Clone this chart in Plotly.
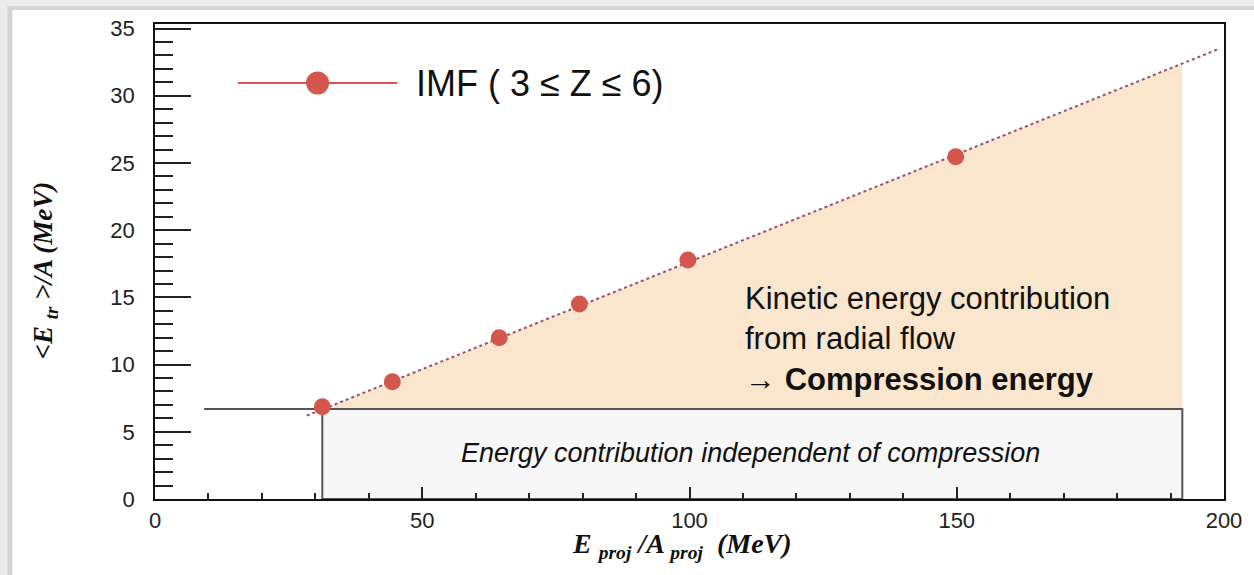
import plotly.graph_objects as go

# Beam energy per nucleon (MeV) and mean transverse energy per nucleon of IMFs (MeV)
e_proj = [31.3, 44.4, 64.4, 79.4, 99.7, 149.8]
e_tr = [6.87, 8.73, 12.0, 14.5, 17.78, 25.47]

# Linear systematics drawn through the points (end points)
fit_x = [28.4, 199.1]
fit_y = [6.2, 33.5]

# Compression-energy region (above the constant offset)
flow_x = [31.5, 192.2, 192.2]
flow_y = [6.7, 32.4, 6.7]

# Constant, compression-independent offset
offset_level = 6.7
offset_x = [31.3, 192.2]
offset_line_start = 9.2

x_range = [0, 200]
y_range = [0, 35.34]

# figure geometry
W, H = 1254, 575
ML, MR, MT, MB = 155, 27, 24, 76
PW, PH = W - ML - MR, H - MT - MB


def px(xp):
    return (xp - ML) / PW


def py(yp):
    return (H - MB - yp) / PH


fig = go.Figure()

fig.add_trace(go.Scatter(
    x=flow_x, y=flow_y, fill="toself", mode="none",
    fillcolor="#f9e6cd", hoverinfo="skip", showlegend=False))

fig.add_trace(go.Scatter(
    x=[offset_line_start, offset_x[1]], y=[offset_level, offset_level],
    mode="lines", line=dict(color="#555555", width=2), showlegend=False))

fig.add_trace(go.Scatter(
    x=fit_x, y=fit_y, mode="lines",
    line=dict(color="#9a5068", width=2, dash="dot"), showlegend=False))

fig.add_trace(go.Scatter(
    x=e_proj, y=e_tr, mode="markers",
    marker=dict(color="#d4574e", size=17, line=dict(width=0)),
    name="IMF ( 3 ≤ Z ≤ 6)", showlegend=False))

shapes = [
    # page background and card
    dict(type="rect", xref="paper", yref="paper", layer="below",
         x0=px(7), x1=px(1260), y0=py(580), y1=py(6),
         fillcolor="#d4d4d4", line=dict(width=0)),
    dict(type="rect", xref="paper", yref="paper", layer="below",
         x0=px(12), x1=px(1260), y0=py(580), y1=py(10),
         fillcolor="white", line=dict(width=0)),
    # compression-independent box
    dict(type="rect", xref="x", yref="y", layer="below",
         x0=offset_x[0], x1=offset_x[1], y0=0, y1=offset_level,
         fillcolor="#f7f7f7", line=dict(color="#555555", width=2)),
    # legend sample line
    dict(type="line", xref="paper", yref="paper",
         x0=px(238), x1=px(398), y0=py(83), y1=py(83),
         line=dict(color="#d4574e", width=2)),
    dict(type="circle", xref="paper", yref="paper",
         xsizemode="pixel", ysizemode="pixel",
         xanchor=px(318), yanchor=py(83),
         x0=-11.5, x1=11.5, y0=-11.5, y1=11.5,
         fillcolor="#d4574e", line=dict(width=0)),
]

annotations = [
    dict(text="IMF ( 3 ≤ Z ≤ 6)", xref="paper", yref="paper",
         x=px(415), y=py(84), xanchor="left", yanchor="middle", showarrow=False,
         font=dict(family="Liberation Sans", size=36, color="#111111")),
    dict(text="Kinetic energy contribution<br>from radial flow<br>→ <b>Compression energy</b>",
         xref="paper", yref="paper", x=px(745), y=py(339),
         xanchor="left", yanchor="middle", align="left", showarrow=False,
         font=dict(family="Liberation Sans", size=31, color="#111111")),
    dict(text="<i>Energy contribution independent of compression</i>",
         xref="paper", yref="paper", x=px(752), y=py(453),
         xanchor="center", yanchor="middle", showarrow=False,
         font=dict(family="Liberation Sans", size=27, color="#111111")),
    dict(text="<b><i>&lt;E <sub>tr</sub> &gt;/A (MeV)</i></b>", textangle=-90,
         xref="paper", yref="paper", x=px(45), y=py(270),
         xanchor="center", yanchor="middle", showarrow=False,
         font=dict(family="Liberation Serif", size=27, color="#111111")),
    dict(text="<b><i>E <sub>proj</sub> /A <sub>proj</sub>  (MeV)</i></b>",
         xref="paper", yref="paper", x=px(683), y=py(545),
         xanchor="center", yanchor="middle", showarrow=False,
         font=dict(family="Liberation Serif", size=28, color="#111111")),
]

fig.update_layout(
    width=W, height=H,
    margin=dict(l=ML, r=MR, t=MT, b=MB, pad=0),
    paper_bgcolor="#ececec", plot_bgcolor="rgba(0,0,0,0)",
    shapes=shapes, annotations=annotations, showlegend=False,
)

axis_common = dict(
    showgrid=False, zeroline=False, showline=True, mirror=True,
    linecolor="#111111", linewidth=1.5, ticks="inside", tickcolor="#222222",
    tickwidth=1.5, tickfont=dict(family="Liberation Sans", size=22, color="#222222"),
)

fig.update_xaxes(range=x_range, dtick=50, tick0=0, ticklen=12,
                 ticklabelstandoff=1,
                 minor=dict(dtick=10, ticklen=6, ticks="inside", tickcolor="#222222"),
                 **axis_common)
fig.update_yaxes(range=y_range, dtick=5, tick0=0, ticklen=36,
                 ticklabelstandoff=14,
                 minor=dict(dtick=1, ticklen=18, ticks="inside", tickcolor="#222222"),
                 **axis_common)

fig.write_html("out.html")
